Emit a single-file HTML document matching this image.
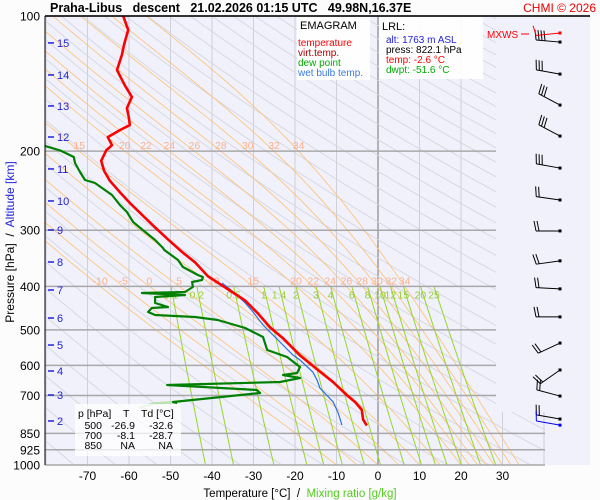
<!DOCTYPE html>
<html><head><meta charset="utf-8"><style>
html,body{margin:0;padding:0;background:#fcfcfc;}
svg{display:block;font-family:"Liberation Sans",sans-serif;}
</style></head><body>
<svg id="chart" width="600" height="500" viewBox="0 0 600 500">
<defs><clipPath id="pc"><polygon points="45,16 496,16 496,412 545,412 545,465 45,465"/></clipPath></defs>
<rect x="45" y="16" width="545" height="449" fill="#f1f1fc"/>
<g id="grid" clip-path="url(#pc)"></g>
<g id="isobars"></g>
<g id="labels"></g>
<g id="profiles" clip-path="url(#pc)"></g>
<g id="winds"></g>
<line x1="45" y1="16" x2="45" y2="465" stroke="#000" stroke-width="1"/>
<line x1="45" y1="16" x2="590" y2="16" stroke="#000" stroke-width="1.5"/>
<text x="50" y="12" font-size="12.5" font-weight="bold" style="white-space:pre">Praha-Libus   descent   21.02.2026 01:15 UTC   49.98N,16.37E</text>
<text x="596" y="12" font-size="12" fill="#e00" text-anchor="end">CHMI © 2026</text>
<g>
<rect x="297" y="17" width="73" height="63" fill="#fff" opacity="0.9"/>
<text x="300" y="29" font-size="11">EMAGRAM</text>
<text x="298" y="46" font-size="10" fill="#f00">temperature</text>
<text x="298" y="56" font-size="10" fill="#a00">virt.temp.</text>
<text x="298" y="66" font-size="10" fill="#0a0">dew point</text>
<text x="298" y="76" font-size="10" fill="#3a7ae0">wet bulb temp.</text>
</g>
<g>
<rect x="379" y="17" width="104" height="62" fill="#fff" opacity="0.9"/>
<text x="382" y="30" font-size="11">LRL:</text>
<text x="386" y="43" font-size="10" fill="#22d">alt: 1763 m ASL</text>
<text x="386" y="53" font-size="10" fill="#000">press: 822.1 hPa</text>
<text x="386" y="63" font-size="10" fill="#f00">temp: -2.6 °C</text>
<text x="386" y="73" font-size="10" fill="#0a0">dwpt: -51.6 °C</text>
</g>
<text x="487" y="38" font-size="10" fill="#f00">MXWS</text>
<line x1="521" y1="34" x2="529" y2="34" stroke="#f00" stroke-width="1"/>
<text x="0" y="0" font-size="12" transform="translate(14,242) rotate(-90)" text-anchor="middle" style="white-space:pre"><tspan fill="#000">Pressure [hPa]  /  </tspan><tspan fill="#22d">Altitude [km]</tspan></text>
<text x="300" y="497" font-size="11.5" text-anchor="middle" style="white-space:pre"><tspan fill="#000">Temperature [°C]  /  </tspan><tspan fill="#5c2">Mixing ratio [g/kg]</tspan></text>
<g font-size="10.5">
<rect x="75" y="404" width="106" height="52" fill="#fff" opacity="0.75"/>
<text x="78" y="417">p [hPa]</text><text x="123" y="417">T</text><text x="141" y="417">Td [°C]</text>
<text x="102" y="429" text-anchor="end">500</text><text x="135" y="429" text-anchor="end">-26.9</text><text x="173" y="429" text-anchor="end">-32.6</text>
<text x="102" y="439" text-anchor="end">700</text><text x="135" y="439" text-anchor="end">-8.1</text><text x="173" y="439" text-anchor="end">-28.7</text>
<text x="102" y="449" text-anchor="end">850</text><text x="135" y="449" text-anchor="end">NA</text><text x="173" y="449" text-anchor="end">NA</text>
</g>
</svg>
<script>
// ---- data ----
const tempP=[100,107.4,116,122.1,131.9,142.7,151.5,160.4,169,175,179.5,186.1,194,199.2,210.1,221.3,232.8,246.8,260.8,277,295.7,317.5,335.4,353.7,379.6,402.1,430.4,460,493.7,522,570,611.9,653.9,699,724.2,753.9,792.3,816.5];
const tempT=[-61.4,-60.2,-61.2,-61.7,-62.9,-61.0,-59.3,-60.5,-60.0,-59.8,-62.2,-65.1,-64.1,-65.5,-66.7,-66.0,-64.6,-62.2,-59.8,-56.9,-53.7,-50.1,-47.2,-44.1,-41.0,-36.9,-32.0,-28.9,-26.0,-22.9,-18.8,-14.7,-10.8,-7.5,-5.5,-3.9,-3.6,-2.7];
const dewP=[194.8,199.2,206.1,212.5,222.6,231.9,235.5,244.1,250.4,263.6,273.2,287.6,302.7,315.4,328.6,332,349.5,362.3,377.4,381.3,387.3,391.2,401.4,411.8,413.9,418.2,422.5,435.7,444.7,447,456.3,463.4,468.2,475.5,495.3,518.7,554.4,574.7,605,623.9,630.3,640.1,653.4,663.5,680.7,691.3,723.9,727.6];
const dewT=[-80.2,-76.6,-73.3,-73.0,-71.8,-70.6,-68.2,-65.8,-64.1,-62.2,-60.5,-59.0,-56.1,-53.7,-51.8,-51.5,-48.2,-47.0,-43.4,-42.2,-42.4,-44.8,-44.6,-46.5,-56.9,-46.5,-53.7,-53.7,-50.6,-54.5,-55.4,-53.7,-44.1,-38.6,-32.0,-27.7,-26.7,-21.9,-18.8,-19.5,-22.9,-18.8,-23.6,-50.8,-29.2,-28.4,-49.4,-48.4];
const dewTailP=[723.9,729.5,743.5,757];
const dewTailT=[-48.4,-53.9,-57.2,-55.5];
const wetP=[393.2,413.9,435.7,456.3,487.7,513.4,569,583.7,620.7,646.7,673.8,723.9,765.9,814.4];
const wetT=[-37.6,-34.5,-32.0,-30.1,-27.7,-25.3,-20.5,-18.8,-15.7,-14.7,-14.0,-10.8,-9.6,-8.7];
const pressureTicks=[100,200,300,400,500,600,700,850,925,1000];
const tempTicks=[-70,-60,-50,-40,-30,-20,-10,0,10,20,30];
const altTicks=[15,14,13,12,11,10,9,8,7,6,5,4,3,2];
const altTickP=[114.8,135.3,158.6,186.0,219.1,258.2,299.6,353.1,407.6,470.6,540.5,617.5,698.4,797.9];
const mixRatios=[0.1,0.2,0.5,1,1.4,2,3,4,6,8,10,12,15,20,25];
const mixLabels=["0.1","0.2","0.5","1","1.4","2","3","4","6","8","10","12","15","20","25"];
const moistThetaW=[-10,-5,0,5,10,15,20,22,24,26,28,30,32,34];
const moistLabelsLow=[-10,-5,0,5,10,15,20,22,24,26,28,30,32,34];
const moistLabelsHigh=[15,20,22,24,26,28,30,32,34];
const dryTheta=[];for(let t=200;t<=620;t+=10)dryTheta.push(t);
const windP=[114.3,134.7,157.9,185.1,218.1,256.9,301.1,351.0,405.3,467.9,535.1,614.3,702.2,790.0];
const windAng=[5,10,28,28,10,8,0,-8,3,0,-25,-35,15,10];
const windBarbs=[4,3,3,3,3,2,2,2,2,2,2,2,2,2];
// ---- axes ----
const tx=T=>378+4.15*T;
const py=p=>16+195*Math.log(p/100);
const NS='http://www.w3.org/2000/svg';
function mk(tag,at,parent){const e=document.createElementNS(NS,tag);for(const k in at)e.setAttribute(k,at[k]);parent.appendChild(e);return e;}
const grid=document.getElementById('grid'),iso=document.getElementById('isobars'),lab=document.getElementById('labels'),prof=document.getElementById('profiles'),winds=document.getElementById('winds');
function pathFrom(Ts,Ps){return Ts.map((T,i)=>(i?'L':'M')+tx(T).toFixed(1)+','+py(Ps[i]).toFixed(1)).join('');}
for(let T=-80;T<=40;T+=10){const l=mk('line',{x1:tx(T),y1:16,x2:tx(T),y2:465,stroke:T===0?'#888':'#cfcfd8','stroke-width':T===0?1.2:1},grid);
}
const plist=[];for(let p=100;p<=1000;p+=10)plist.push(p);
dryTheta.forEach(th=>{const d=plist.map((p,i)=>(i?'L':'M')+tx(th*Math.pow(p/1000,0.2857)-273.15).toFixed(1)+','+py(p).toFixed(1)).join('');
const e=mk('path',{d:d,fill:'none',stroke:'#d6d6de','stroke-width':0.9},grid);});
function es(Tc){return 6.112*Math.exp(17.67*Tc/(Tc+243.5));}
function moist(tw){let T=tw+273.15,p=1000;const pts=[[T,p]];const Rd=287.04,Lv=2.501e6,cp=1005.7,eps=0.622;
while(p>100){const dp=-2;const e=es(T-273.15);const rs=eps*e/(p-e);const dTdp=(1/p)*(Rd*T+Lv*rs)/(cp+Lv*Lv*rs*eps/(Rd*T*T));T+=dTdp*dp;p+=dp;pts.push([T,p]);}
return pts;}
const moistCache={};
moistThetaW.forEach(tw=>{const pts=moist(tw);moistCache[tw]=pts;const d=pts.filter((q,i)=>i%5===0||i===pts.length-1).map((q,i)=>(i?'L':'M')+tx(q[0]-273.15).toFixed(1)+','+py(q[1]).toFixed(1)).join('');
const e=mk('path',{d:d,fill:'none',stroke:'#ffc070','stroke-width':0.8},grid);});
function moistAt(tw,p){const pts=moistCache[tw]||moist(tw);let best=pts[0];pts.forEach(q=>{if(Math.abs(q[1]-p)<Math.abs(best[1]-p))best=q;});return best[0]-273.15;}
function mixT(w,p){const e=w*p/(622+w);const L=Math.log(e/6.112);return 243.5*L/(17.67-L);}
mixRatios.forEach((w,i)=>{const ps=[400,500,600,700,800,900,1000];const d=ps.map((p,j)=>(j?'L':'M')+tx(mixT(w,p)).toFixed(1)+','+py(p).toFixed(1)).join('');
const e=mk('path',{d:d,fill:'none',stroke:'#96d626','stroke-width':1},grid);
const t=mk('text',{x:tx(mixT(w,400)),y:py(400)+12,'font-size':10.5,fill:'#9c3','text-anchor':'middle'},lab);t.textContent=mixLabels[i];
});
moistLabelsLow.forEach(tw=>{const t=mk('text',{x:tx(moistAt(tw,400)),y:py(400)-2,'font-size':10.5,fill:'#fbb08a','text-anchor':'middle'},lab);t.textContent=tw;
});
moistLabelsHigh.forEach(tw=>{const t=mk('text',{x:tx(moistAt(tw,200)),y:py(200)-2,'font-size':10.5,fill:'#fbb08a','text-anchor':'middle'},lab);t.textContent=tw;
});
pressureTicks.forEach(p=>{const y=py(p);const x2=p>=850?545:(p===100?590:496);
const l=mk('line',{x1:45,y1:y,x2:x2,y2:y,stroke:'#a8a8a8','stroke-width':1.5},iso);
const t=mk('text',{x:40,y:y+4.5,'font-size':12,'text-anchor':'end'},lab);t.textContent=p;});
tempTicks.forEach(T=>{const t=mk('text',{x:tx(T),y:480,'font-size':12,'text-anchor':'middle'},lab);t.textContent=T;});
altTicks.forEach((a,i)=>{const y=py(altTickP[i]);const l=mk('line',{x1:48,y1:y,x2:54,y2:y,stroke:'#22d','stroke-width':1.5},lab);
const t=mk('text',{x:57,y:y+4,'font-size':11,fill:'#22d'},lab);t.textContent=a;});
let e;
e=mk('path',{d:pathFrom(dewTailT,dewTailP),fill:'none',stroke:'#b8e0b0','stroke-width':2.5},prof);
e=mk('path',{d:pathFrom(wetT,wetP),fill:'none',stroke:'#2a70e0','stroke-width':1.2},prof);
e=mk('path',{d:pathFrom(dewT,dewP),fill:'none',stroke:'#008000','stroke-width':2.2,'stroke-linejoin':'round'},prof);
e=mk('path',{d:pathFrom(tempT,tempP),fill:'none',stroke:'#f00','stroke-width':2.6,'stroke-linejoin':'round'},prof);
function barb(p,ang,n,col){const y=py(p),x=560;const r=ang*Math.PI/180;const L=24;const ex=x-L*Math.cos(r),ey=y-L*Math.sin(r);
const g=mk('g',{},winds);
mk('line',{x1:x,y1:y,x2:ex,y2:ey,stroke:col,'stroke-width':1},g);mk('rect',{x:x-1.5,y:y-1.5,width:3,height:3,fill:col},g);
const ux=Math.cos(r),uy=Math.sin(r);for(let k=0;k<n;k++){const bx=ex+ux*3*k,by=ey+uy*3*k;mk('line',{x1:bx,y1:by,x2:bx+uy*10-ux*2,y2:by-ux*10-uy*2,stroke:col,'stroke-width':1},g);}}
windP.forEach((p,i)=>barb(p,windAng[i],windBarbs[i],'#000'));
barb(109.1,-6,1,'#f00');barb(815,10,1,'#00f');
</script>
</body></html>
